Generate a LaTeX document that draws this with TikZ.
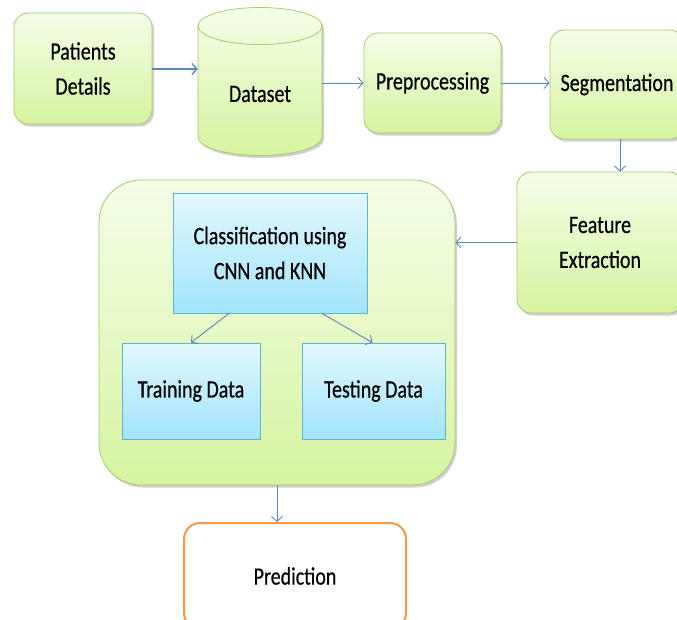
\documentclass[tikz,border=0pt]{standalone}
\usepackage{fontspec}
\setmainfont{Carlito}[FakeStretch=0.8,FakeBold=0.4]
\usetikzlibrary{arrows.meta,shadows}
\definecolor{gtop}{HTML}{F4FDE8}
\definecolor{gbot}{HTML}{D6F4A0}
\definecolor{gline}{HTML}{A8CB6C}
\definecolor{btop}{HTML}{E2F8FE}
\definecolor{bbot}{HTML}{A2E4FA}
\definecolor{bline}{HTML}{5FB4CF}
\definecolor{arr}{HTML}{5B86C0}
\definecolor{orng}{HTML}{F79646}
\tikzset{
  gbox/.style={rectangle, rounded corners=14pt, draw=gline, line width=0.8pt,
    top color=gtop, bottom color=gbot, align=center,
    drop shadow={shadow xshift=2pt, shadow yshift=-2.5pt, opacity=0.3, fill=black!60}},
  bbox/.style={rectangle, draw=bline, line width=0.8pt,
    top color=btop, bottom color=bbot, align=center},
  conbox/.style={rectangle, rounded corners=42pt, draw=gline, line width=0.8pt,
    top color=gtop, bottom color=gbot,
    drop shadow={shadow xshift=2pt, shadow yshift=-2.5pt, opacity=0.3, fill=black!60}},
  predbox/.style={rectangle, rounded corners=16pt, draw=orng, line width=2pt, fill=white, align=center},
  conn/.style={draw=arr, line width=0.9pt, -{Straight Barb[length=5pt,width=11pt]}},
}
\begin{document}
\begin{tikzpicture}[x=1pt,y=-1pt, font=\fontsize{25}{35}\selectfont]
\useasboundingbox (0,0) rectangle (677,619);
\fill[white] (0,0) rectangle (677,619);

% Dataset cylinder
\fill[black!60, opacity=0.3, shift={(2pt,-2.5pt)}]
  (198,26) -- (198,137) arc[start angle=180,end angle=0,x radius=62,y radius=18.5]
  -- (322,26) arc[start angle=0,end angle=-180,x radius=62,y radius=18.5] -- cycle;
\path[draw=gline, line width=0.8pt, top color=gtop, bottom color=gbot]
  (198,26) -- (198,137) arc[start angle=180,end angle=0,x radius=62,y radius=18.5]
  -- (322,26) arc[start angle=0,end angle=-180,x radius=62,y radius=18.5] -- cycle;
\draw[gline, line width=0.8pt] (198,26) arc[start angle=180,end angle=0,x radius=62,y radius=18.5];
\node[minimum width=124pt, minimum height=130pt, inner sep=0pt] (ds) at (260,90) {};
\node at (260,94) {Dataset};

\node[gbox, minimum width=138pt, minimum height=111pt] (pat) at (83,68.5) {Patients\\Details};
\node[gbox, minimum width=137pt, minimum height=100pt] (pre) at (432.5,83) {Preprocessing};
\node[gbox, minimum width=134pt, minimum height=109pt] (seg) at (617,84.5) {Segmentation};
\node[gbox, minimum width=166pt, minimum height=141pt] (feat) at (600,242.5) {Feature\\Extraction};

\node[conbox, minimum width=356pt, minimum height=305pt] (cont) at (277,332.5) {};
\node[bbox, minimum width=194pt, minimum height=120pt] (cls) at (270,253) {Classification using\\CNN and KNN};
\node[bbox, minimum width=138pt, minimum height=96pt] (trn) at (191,391) {Training Data};
\node[bbox, minimum width=143pt, minimum height=96pt] (tst) at (373.5,391) {Testing Data};

\node[predbox, minimum width=222pt, minimum height=106pt] (pred) at (295,576) {Prediction};

\draw[conn, line width=1.3pt] (pat.east |- 0,69) -- (ds.west |- 0,69);
\draw[conn] (ds.east |- pre.west) -- (pre.west);
\draw[conn] (pre.east) -- (seg.west |- pre.east);
\draw[conn] (seg.south -| 620,0) -- (feat.north -| 620,0);
\draw[conn] (feat.west) -- (feat.west -| cont.east);
\draw[conn] ([xshift=-41pt]cls.south) -- (trn.north);
\draw[conn] ([xshift=52pt]cls.south) -- ([xshift=-1pt]tst.north);
\draw[conn] (cont.south) -- (cont.south |- pred.north);
\end{tikzpicture}
\end{document}
